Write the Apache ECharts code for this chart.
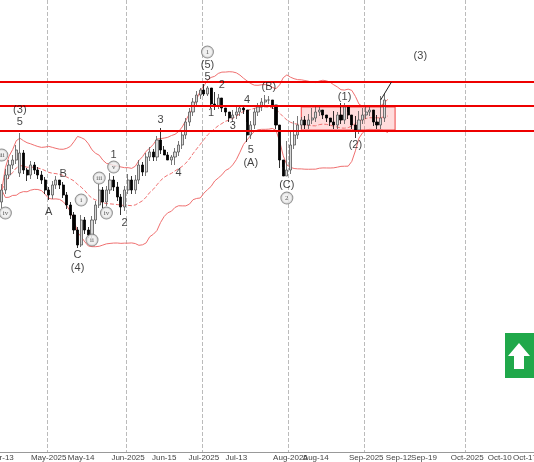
<!DOCTYPE html>
<html>
<head>
<meta charset="utf-8">
<script src="https://cdn.jsdelivr.net/npm/echarts@6/dist/echarts.min.js"></script>
<style>html,body{margin:0;padding:0;background:#fff}#chart{width:534px;height:462px}</style>
</head>
<body>
<div id="chart"></div>
<script>
// bar slots on the x axis (trading days, including empty future slots)
const slotCount = 148;
const tickLabels = {0: 'Apr-13', 13: 'May-2025', 22: 'May-14', 35: 'Jun-2025', 45: 'Jun-15', 56: 'Jul-2025',
  65: 'Jul-13', 80: 'Aug-2025', 87: 'Aug-14', 101: 'Sep-2025', 110: 'Sep-12', 117: 'Sep-19',
  129: 'Oct-2025', 138: 'Oct-10', 145: 'Oct-17'};
const monthStarts = [13, 35, 56, 80, 101, 129];

const opens = [250,262,277,287,292,279,299,282,277,287,282,277,272,262,257,267,272,267,257,247,237,222,
  207,232,222,217,232,247,262,250,262,272,265,255,245,262,272,262,272,287,280,295,300,295,312,302,297,292,
  295,300,307,317,330,340,350,357,362,358,364,348,346,354,344,340,334,337,340,344,342,317,327,340,345,350,
  352,352,347,327,292,276,282,307,317,327,332,327,332,334,340,342,337,334,330,327,337,332,345,337,327,322,
  332,337,340,342,330,327,334,352];
const closes = [262,277,287,292,302,299,282,277,287,282,277,272,262,257,267,272,267,257,247,237,222,207,
  232,222,217,232,247,262,250,262,272,265,255,245,262,272,262,272,287,280,295,300,295,312,302,297,292,295,
  300,307,317,330,340,350,357,362,358,364,348,346,354,344,340,334,337,340,344,342,317,327,340,345,350,352,
  352,347,327,292,276,282,307,317,327,332,327,332,334,340,342,337,334,330,327,337,332,345,337,327,322,332,
  337,340,342,330,327,334,352,356];
const highs = [268,283,292,297,307,319,302,284,291,290,285,281,275,265,271,276,271,270,260,250,240,225,
  237,235,225,236,251,268,265,266,279,276,270,258,266,278,276,277,292,290,299,305,303,316,324,306,300,297,
  304,311,321,334,344,354,361,364,368,366,352,360,358,348,344,340,342,347,347,346,330,331,344,349,354,357,
  356,351,331,296,285,311,321,331,336,335,336,338,344,346,345,340,337,333,341,340,349,349,340,330,336,341,
  344,346,345,333,337,356,358];
const lows = [244,258,273,283,288,275,278,271,273,278,273,268,258,252,253,263,263,254,243,233,218,204,
  205,218,214,214,228,244,244,246,258,261,251,237,241,258,258,258,268,276,276,291,291,291,298,298,293,287,
  287,296,303,313,326,336,346,353,356,356,344,342,343,340,336,330,330,333,336,338,310,313,323,336,341,346,
  348,343,323,284,276,276,278,303,313,323,323,323,328,330,336,333,330,326,323,323,328,328,333,323,314,318,
  328,333,336,326,323,323,330,348];

// support / resistance levels and the consolidation box
const levels = [370, 346, 321];
const boxFrom = 83, boxTo = 109, boxTop = 345, boxBottom = 322;

// wave labels: [slot, price, text]
const waveLabels = [[5,342,'(3)'],[5,330,'5'],[13,240,'A'],[17,278,'B'],[21,197,'C'],[21,184,'(4)'],
  [31,297,'1'],[34,229,'2'],[44,332,'3'],[49,279,'4'],[57,375,'5'],[57,387,'(5)'],[58,339,'1'],
  [61,367,'2'],[64,326,'3'],[68,352,'4'],[69,302,'5'],[69,289,'(A)'],[74,365,'(B)'],[79,267,'(C)'],
  [95,355,'(1)'],[98,307,'(2)'],[116,396,'(3)']];
const circledLabels = [[57,400,'1'],[0,297,'iii'],[1,239,'iv'],[22,252,'i'],[25,212,'ii'],[27,274,'iii'],
  [29,239,'iv'],[31,285,'v'],[79,254,'2']];

const slots = Array.from({length: slotCount}, (_, i) => String(i));
const candles = opens.map((o, i) => [o, closes[i], lows[i], highs[i]]);

// 20-bar Bollinger bands from the closes
const upper = [], middle = [], lower = [];
closes.forEach((c, i) => {
  const w = closes.slice(Math.max(0, i - 19), i + 1);
  const m = w.reduce((a, b) => a + b, 0) / w.length;
  const sd = Math.sqrt(w.reduce((a, b) => a + (b - m) * (b - m), 0) / w.length);
  middle.push(+m.toFixed(2));
  upper.push(+(m + 2 * sd).toFixed(2));
  lower.push(+(m - 2 * sd).toFixed(2));
});

const chart = echarts.init(document.getElementById('chart'), null, {renderer: 'canvas'});
const bandStyle = {color: '#f07070', width: 1};

chart.setOption({
  animation: false,
  backgroundColor: '#fff',
  grid: {left: 0, right: 0, top: 0, bottom: 10, outerBoundsMode: 'none', containLabel: false},
  xAxis: {
    type: 'category', data: slots,
    axisLine: {lineStyle: {color: '#999'}},
    axisTick: {interval: (i) => i in tickLabels, lineStyle: {color: '#999'}},
    axisLabel: {interval: (i) => i in tickLabels, formatter: (v) => tickLabels[v] || '',
      fontSize: 8, color: '#444', margin: 2, fontFamily: 'Liberation Sans', hideOverlap: false},
    splitLine: {show: true, interval: (i) => monthStarts.includes(i),
      lineStyle: {color: '#bbb', type: 'dashed'}}
  },
  yAxis: {type: 'value', min: 0, max: 452, show: false, splitLine: {show: false}},
  series: [
    {type: 'line', data: upper, symbol: 'none', lineStyle: bandStyle, z: 1},
    {type: 'line', data: lower, symbol: 'none', lineStyle: bandStyle, z: 1},
    {type: 'line', data: middle, symbol: 'none', lineStyle: {color: '#f07070', width: 1, type: 'dashed'}, z: 1},
    {
      type: 'candlestick', data: candles, barWidth: 2.6, z: 3,
      itemStyle: {color: '#d8d8d8', color0: '#000', borderColor: '#555', borderColor0: '#000', borderWidth: 0.8},
      markLine: {
        silent: true, symbol: 'none', label: {show: false},
        lineStyle: {color: '#ee0000', width: 2, type: 'solid'},
        data: levels.map(v => ({yAxis: v}))
      },
      markArea: {
        silent: true,
        itemStyle: {color: 'rgba(255,60,60,0.18)', borderColor: '#ee4444', borderWidth: 1},
        data: [[{coord: [String(boxFrom), boxTop]}, {coord: [String(boxTo), boxBottom]}]]
      }
    },
    {
      type: 'line', data: [[String(105), 352], [String(108), 370]], symbol: ['none', 'arrow'], symbolSize: 8,
      lineStyle: {color: '#222', width: 1}, itemStyle: {color: '#222'}, z: 5
    },
    {
      type: 'scatter', data: waveLabels, symbolSize: 0, z: 6,
      label: {show: true, position: 'inside', formatter: (p) => p.data[2], fontSize: 11, color: '#111',
        fontFamily: 'Liberation Sans'}
    },
    {
      type: 'scatter', data: circledLabels, symbolSize: 0, z: 6,
      label: {show: true, position: 'inside', formatter: (p) => p.data[2], fontSize: 7, color: '#333',
        backgroundColor: '#eee', borderColor: '#777', borderWidth: 1, borderRadius: 7,
        width: 11, height: 11, lineHeight: 11, align: 'center', fontFamily: 'Liberation Serif'}
    }
  ],
  graphic: [
    {type: 'rect', left: 505, top: 333, shape: {width: 29, height: 45}, style: {fill: '#20a84a'}},
    {type: 'polygon', shape: {points: [[519, 343], [508, 356], [514, 356], [514, 369], [524, 369], [524, 356], [530, 356]]},
      style: {fill: '#fff'}}
  ]
});
</script>
</body>
</html>
